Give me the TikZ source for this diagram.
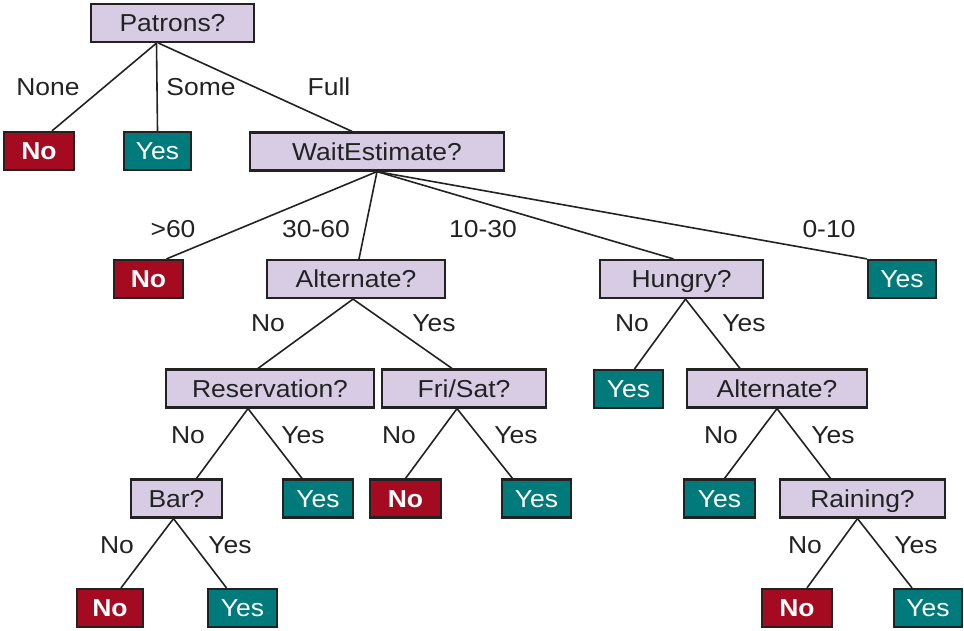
\documentclass[tikz,border=0pt]{standalone}
\usepackage{fontspec}
\setmainfont{Liberation Sans}[FakeStretch=1.08]
\definecolor{lav}{HTML}{D7CCE4}
\definecolor{nored}{HTML}{A50B20}
\definecolor{yesteal}{HTML}{007A7A}
\definecolor{ink}{HTML}{222222}
\begin{document}
\begin{tikzpicture}[x=1pt,y=-1pt,
  box/.style={draw=ink, line width=2.2pt, inner sep=0pt, minimum height=38pt,
    text height=17.5pt, text depth=0pt, font=\fontsize{24.5}{28}\selectfont},
  q/.style={box, fill=lav, text=ink},
  yesbox/.style={box, fill=yesteal, text=white},
  nobox/.style={box, fill=nored, text=white, font=\fontsize{24.5}{28}\selectfont\bfseries},
  lbl/.style={anchor=base, inner sep=0pt, text=ink, font=\fontsize{24.5}{28}\selectfont},
  edge/.style={draw=ink, line width=1.6pt}]
\useasboundingbox (0,0) rectangle (964,630);
% nodes
\node[q, minimum width=163pt] (pat) at (172.5,23) {Patrons?};
\node[nobox, minimum width=70pt] (no1) at (39,151) {No};
\node[yesbox, minimum width=67pt] (yes1) at (157.5,151) {Yes};
\node[q, minimum width=254pt] (wait) at (377,151.5) {WaitEstimate?};
\node[nobox, minimum width=69pt] (no2) at (148.5,279) {No};
\node[q, minimum width=178pt] (alt1) at (356,279) {Alternate?};
\node[q, minimum width=163pt] (hun) at (681.5,279) {Hungry?};
\node[yesbox, minimum width=68pt] (yes2) at (902,279) {Yes};
\node[q, minimum width=208pt] (res) at (270,388.5) {Reservation?};
\node[q, minimum width=164pt] (fri) at (464,388.5) {Fri/Sat?};
\node[yesbox, minimum width=69pt] (yes3) at (628.5,389) {Yes};
\node[q, minimum width=180pt] (alt2) at (777,388.5) {Alternate?};
\node[q, minimum width=91pt] (bar) at (176.5,498.5) {Bar?};
\node[yesbox, minimum width=70pt] (yes4) at (318,498.5) {Yes};
\node[nobox, minimum width=71pt] (no5) at (405.5,498.5) {No};
\node[yesbox, minimum width=69pt] (yes5) at (536.5,498.5) {Yes};
\node[yesbox, minimum width=71pt] (yes6) at (719.5,498.5) {Yes};
\node[q, minimum width=165pt] (rain) at (862.5,498.5) {Raining?};
\node[nobox, minimum width=66pt] (no6) at (110,608) {No};
\node[yesbox, minimum width=69pt] (yes7) at (242.5,608) {Yes};
\node[nobox, minimum width=70pt] (no7) at (797,608) {No};
\node[yesbox, minimum width=68pt] (yes8) at (928,608) {Yes};
% edges
\draw[edge] ([xshift=-16pt]pat.south) -- ([xshift=13pt]no1.north);
\draw[edge] ([xshift=-16pt]pat.south) -- ([xshift=0pt]yes1.north);
\draw[edge] ([xshift=-14pt]pat.south) -- ([xshift=-25pt]wait.north);
\draw[edge] (wait.south) -- ([xshift=18pt]no2.north);
\draw[edge] (wait.south) -- ([xshift=3pt]alt1.north);
\draw[edge] (wait.south) -- ([xshift=-8pt]hun.north);
\draw[edge] (wait.south) -- ([xshift=-35pt]yes2.north);
\draw[edge] ([xshift=-3pt]alt1.south) -- ([xshift=-12pt]res.north);
\draw[edge] ([xshift=-3pt]alt1.south) -- ([xshift=-12pt]fri.north);
\draw[edge] ([xshift=4pt]hun.south) -- ([xshift=6pt]yes3.north);
\draw[edge] ([xshift=4pt]hun.south) -- ([xshift=-37pt]alt2.north);
\draw[edge] ([xshift=-22pt]res.south) -- ([xshift=20pt]bar.north);
\draw[edge] ([xshift=-22pt]res.south) -- ([xshift=-16pt]yes4.north);
\draw[edge] ([xshift=-7pt]fri.south) -- ([xshift=0pt]no5.north);
\draw[edge] ([xshift=-7pt]fri.south) -- ([xshift=-24pt]yes5.north);
\draw[edge] (alt2.south) -- ([xshift=5pt]yes6.north);
\draw[edge] (alt2.south) -- ([xshift=-32pt]rain.north);
\draw[edge] ([xshift=-3pt]bar.south) -- ([xshift=11pt]no6.north);
\draw[edge] ([xshift=-3pt]bar.south) -- ([xshift=-16pt]yes7.north);
\draw[edge] ([xshift=-5pt]rain.south) -- ([xshift=10pt]no7.north);
\draw[edge] ([xshift=-5pt]rain.south) -- ([xshift=-16pt]yes8.north);
% labels
\node[lbl] (lnone) at (48,95) {None};
\node[lbl] (lsome) at (201,95) {Some};
\node[lbl] (lfull) at (329,95) {Full};
\node[lbl] (l60) at (173,237) {>60};
\node[lbl] (l3060) at (316,237) {30-60};
\node[lbl] (l1030) at (483,237) {10-30};
\node[lbl] (l010) at (829,237) {0-10};
\node[lbl] (la1n) at (268,331) {No};
\node[lbl] (la1y) at (434,331) {Yes};
\node[lbl] (lhn) at (632,331) {No};
\node[lbl] (lhy) at (744,331) {Yes};
\node[lbl] (lrn) at (188,443) {No};
\node[lbl] (lry) at (303,443) {Yes};
\node[lbl] (lfn) at (399,443) {No};
\node[lbl] (lfy) at (516,443) {Yes};
\node[lbl] (la2n) at (721,443) {No};
\node[lbl] (la2y) at (833,443) {Yes};
\node[lbl] (lbn) at (117,553) {No};
\node[lbl] (lby) at (230,553) {Yes};
\node[lbl] (lrnn) at (805,553) {No};
\node[lbl] (lrny) at (916,553) {Yes};
\end{tikzpicture}
\end{document}
